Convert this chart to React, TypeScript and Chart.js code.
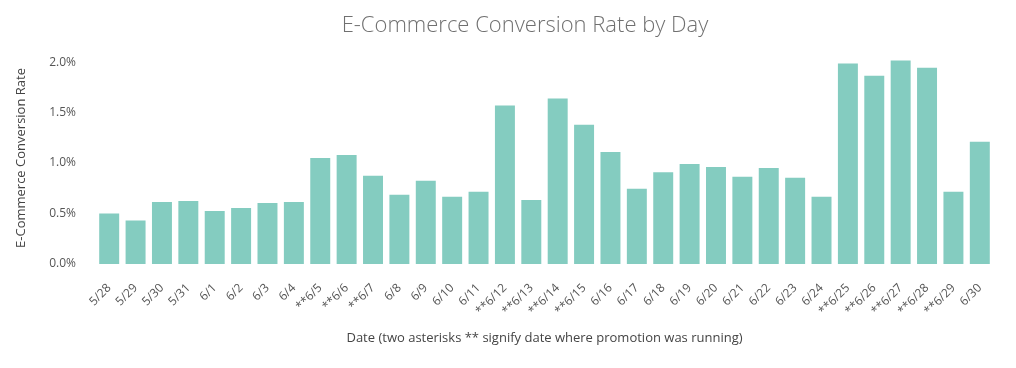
import React, { useEffect, useRef } from "react";
import { Chart, registerables } from "chart.js";

Chart.register(...registerables);

const categories = [
  "5/28", "5/29", "5/30", "5/31", "6/1", "6/2", "6/3", "6/4",
  "**6/5", "**6/6", "**6/7", "6/8", "6/9", "6/10", "6/11",
  "**6/12", "**6/13", "**6/14", "**6/15", "6/16", "6/17", "6/18",
  "6/19", "6/20", "6/21", "6/22", "6/23", "6/24",
  "**6/25", "**6/26", "**6/27", "**6/28", "**6/29", "6/30",
];

const conversionRate = [
  0.50, 0.43, 0.615, 0.625, 0.525, 0.555, 0.605, 0.615,
  1.05, 1.08, 0.875, 0.685, 0.825, 0.665, 0.715,
  1.57, 0.635, 1.64, 1.38, 1.11, 0.745, 0.91,
  0.99, 0.96, 0.865, 0.95, 0.855, 0.665,
  1.985, 1.865, 2.015, 1.945, 0.715, 1.21,
];

const yTicks = [0, 0.5, 1.0, 1.5, 2.0];

const titleText = "E-Commerce Conversion Rate by Day";
const yTitle = "E-Commerce Conversion Rate";
const xTitle = "Date (two asterisks ** signify date where promotion was running)";

const FONT = "'Open Sans', 'Noto Sans', sans-serif";

const titlePlugin = {
  id: "offsetTitle",
  afterDraw(chart: any) {
    const ctx = chart.ctx;
    ctx.save();
    ctx.font = `300 22px ${FONT}`;
    ctx.fillStyle = "#707070";
    ctx.textAlign = "center";
    ctx.textBaseline = "alphabetic";
    ctx.fillText(titleText, 517, 24);
    ctx.restore();
  },
};

export default function App() {
  const ref = useRef<HTMLCanvasElement>(null);
  useEffect(() => {
    if (!ref.current) return;
    const chart = new Chart(ref.current, {
      type: "bar",
      data: {
        labels: categories,
        datasets: [
          {
            label: "E-Commerce Conversion Rate",
            data: conversionRate,
            backgroundColor: "#84ccc0",
            borderWidth: 0,
            categoryPercentage: 1,
            barPercentage: 0.757,
          },
        ],
      },
      options: {
        animation: false,
        responsive: false,
        layout: { padding: { top: 44, right: 15, left: 0, bottom: 0 } },
        plugins: {
          legend: { display: false },
          title: { display: false },
          tooltip: { enabled: false },
        },
        scales: {
          x: {
            grid: { display: false, drawTicks: false },
            border: { display: false },
            afterFit: (scale: any) => {
              scale.height = 96;
              scale.paddingLeft = 0;
              scale.paddingRight = 0;
            },
            ticks: {
              autoSkip: false,
              minRotation: 45,
              maxRotation: 45,
              padding: 17,
              color: "#555",
              font: { family: FONT, size: 12 },
            },
            title: {
              display: true,
              text: xTitle,
              color: "#444",
              font: { family: FONT, size: 13 },
              padding: { top: 15, bottom: 14 },
            },
          },
          y: {
            min: 0,
            max: 2.1,
            grid: { display: false, drawTicks: false },
            border: { display: false },
            afterBuildTicks: (scale: any) => {
              scale.ticks = yTicks.map((v) => ({ value: v }));
            },
            afterFit: (scale: any) => {
              scale.width = 88;
            },
            ticks: {
              padding: 20,
              color: "#555",
              font: { family: FONT, size: 12 },
              callback: (v: any) => Number(v).toFixed(1) + "%",
            },
            title: {
              display: true,
              text: yTitle,
              color: "#444",
              font: { family: FONT, size: 13 },
              padding: { top: 5, bottom: 18 },
            },
          },
        },
      },
      plugins: [titlePlugin],
    });
    return () => chart.destroy();
  }, []);
  return <canvas ref={ref} width={1000} height={352} style={{ display: "block" }} />;
}
